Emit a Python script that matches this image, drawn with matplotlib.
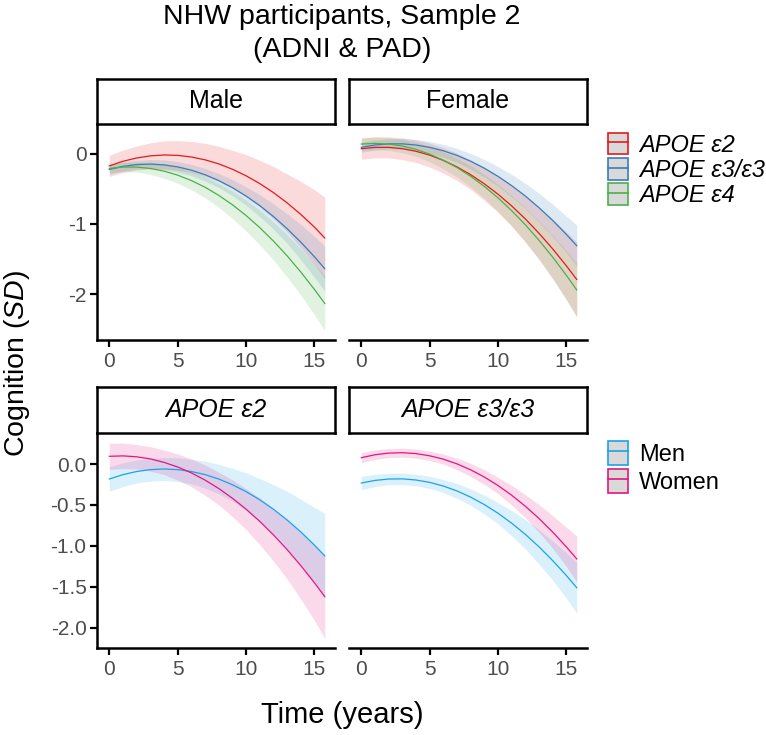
import matplotlib
matplotlib.use("Agg")
from matplotlib import pyplot as plt
from matplotlib.patches import Patch
from matplotlib.lines import Line2D
from matplotlib.font_manager import FontProperties
from numpy import array

plt.rcParams['font.family'] = 'Liberation Sans'
plt.rcParams['mathtext.fontset'] = 'custom'
plt.rcParams['mathtext.rm'] = 'Liberation Sans'
plt.rcParams['mathtext.it'] = 'Liberation Sans:italic'

# czas (lata)
years = [0, 1, 2, 3, 4, 5, 6, 7, 8, 9, 10, 11, 12, 13, 14, 15, 15.75]

# gorny rzad: Male / Female, wg genotypu APOE (srednia i polowa przedzialu ufnosci)
male_e2 = [-0.175, -0.110, -0.063, -0.033, -0.020, -0.026, -0.049, -0.089, -0.147,
           -0.223, -0.316, -0.427, -0.555, -0.701, -0.865, -1.046, -1.2]
male_e2_ci = [0.15, 0.16, 0.17, 0.185, 0.2, 0.21, 0.22, 0.235, 0.25, 0.27, 0.3,
              0.33, 0.37, 0.41, 0.47, 0.53, 0.58]
male_e33 = [-0.226, -0.182, -0.157, -0.150, -0.161, -0.190, -0.236, -0.301, -0.384,
            -0.485, -0.604, -0.740, -0.895, -1.068, -1.259, -1.468, -1.636]
male_e33_ci = [0.07, 0.065, 0.06, 0.065, 0.07, 0.075, 0.08, 0.09, 0.1, 0.115, 0.13,
               0.155, 0.18, 0.21, 0.25, 0.29, 0.32]
male_e4 = [-0.212, -0.192, -0.192, -0.212, -0.250, -0.307, -0.384, -0.479, -0.594,
           -0.728, -0.881, -1.053, -1.244, -1.454, -1.684, -1.932, -2.131]
male_e4_ci = [0.06, 0.065, 0.07, 0.085, 0.1, 0.115, 0.13, 0.15, 0.17, 0.195, 0.22,
              0.245, 0.27, 0.3, 0.33, 0.36, 0.39]

fem_e2 = [0.069, 0.088, 0.088, 0.069, 0.032, -0.023, -0.098, -0.190, -0.301,
          -0.431, -0.579, -0.746, -0.931, -1.135, -1.357, -1.598, -1.790]
fem_e2_ci = [0.15, 0.15, 0.15, 0.155, 0.16, 0.17, 0.18, 0.195, 0.21, 0.235, 0.26,
             0.29, 0.33, 0.37, 0.42, 0.48, 0.53]
fem_e33 = [0.088, 0.121, 0.138, 0.138, 0.121, 0.088, 0.039, -0.027, -0.110,
           -0.209, -0.325, -0.457, -0.605, -0.771, -0.952, -1.151, -1.310]
fem_e33_ci = [0.07, 0.07, 0.07, 0.075, 0.08, 0.085, 0.09, 0.1, 0.11, 0.125, 0.14,
              0.16, 0.18, 0.205, 0.23, 0.26, 0.29]
fem_e4 = [0.135, 0.145, 0.135, 0.107, 0.059, -0.008, -0.095, -0.200, -0.324,
          -0.468, -0.631, -0.813, -1.014, -1.235, -1.474, -1.733, -1.939]
fem_e4_ci = [0.09, 0.09, 0.09, 0.095, 0.1, 0.11, 0.12, 0.135, 0.15, 0.17, 0.19,
             0.215, 0.24, 0.275, 0.31, 0.35, 0.38]

# dolny rzad: APOE e2 / APOE e3/e3, wg plci
men_e2 = [-0.183, -0.129, -0.091, -0.068, -0.060, -0.068, -0.091, -0.129, -0.183,
          -0.253, -0.337, -0.437, -0.553, -0.684, -0.830, -0.992, -1.123]
men_e2_ci = [0.15, 0.145, 0.14, 0.14, 0.14, 0.145, 0.15, 0.165, 0.18, 0.2, 0.23,
             0.26, 0.3, 0.35, 0.4, 0.46, 0.52]
women_e2 = [0.095, 0.100, 0.089, 0.063, 0.021, -0.036, -0.108, -0.196, -0.299,
            -0.418, -0.552, -0.701, -0.866, -1.046, -1.242, -1.453, -1.621]
women_e2_ci = [0.16, 0.155, 0.15, 0.15, 0.15, 0.16, 0.17, 0.185, 0.2, 0.225, 0.25,
               0.285, 0.32, 0.36, 0.41, 0.46, 0.51]

men_e33 = [-0.232, -0.200, -0.183, -0.181, -0.195, -0.224, -0.269, -0.329, -0.405,
           -0.496, -0.602, -0.724, -0.861, -1.014, -1.182, -1.365, -1.513]
men_e33_ci = [0.08, 0.075, 0.07, 0.07, 0.07, 0.075, 0.08, 0.09, 0.1, 0.115, 0.13,
              0.155, 0.18, 0.21, 0.24, 0.28, 0.31]
women_e33 = [0.078, 0.114, 0.134, 0.139, 0.128, 0.101, 0.060, 0.002, -0.071,
             -0.159, -0.263, -0.382, -0.517, -0.667, -0.833, -1.015, -1.161]
women_e33_ci = [0.06, 0.058, 0.055, 0.055, 0.055, 0.058, 0.06, 0.07, 0.08, 0.09, 0.1,
                0.12, 0.14, 0.17, 0.2, 0.24, 0.28]

apoe_labels = ["APOE ε2", "APOE ε3/ε3", "APOE ε4"]
apoe_colors = ["#E41A1C", "#377EB8", "#4DAF4A"]
sex_labels = ["Men", "Women"]
sex_colors = ["#1AA3E8", "#E6157F"]

top_yticks = [0, -1, -2]
top_yticklabels = ["0", "-1", "-2"]
bot_yticks = [0.0, -0.5, -1.0, -1.5, -2.0]
bot_yticklabels = ["0.0", "-0.5", "-1.0", "-1.5", "-2.0"]
xticks = [0, 5, 10, 15]

W, H = 766, 735
fig = plt.figure(figsize=(W / 100, H / 100), dpi=100)


def rect(l, t, r, b):
    return [l / W, 1 - b / H, (r - l) / W, (b - t) / H]


def panel(box, strip_box, title, italic, series, ylim, yticks, yticklabels, show_y):
    ax = fig.add_axes(rect(*box))
    for line, ci, col in series:
        line = array(line)
        ci = array(ci)
        ax.fill_between(years, line - ci, line + ci, color=col, alpha=0.16, linewidth=0)
    for line, ci, col in series:
        ax.plot(years, line, color=col, linewidth=0.9)
    ax.set_xlim(-0.9, 16.5)
    ax.set_ylim(ylim)
    ax.spines['top'].set_visible(False)
    ax.spines['right'].set_visible(False)
    ax.spines['bottom'].set_linewidth(1.8)
    ax.spines['left'].set_linewidth(1.8)
    ax.set_xticks(xticks)
    ax.set_xticklabels([str(t) for t in xticks])
    ax.tick_params(axis='x', length=5, width=1.6, pad=3.5, labelsize=15, labelcolor='#4D4D4D')
    if show_y:
        ax.set_yticks(yticks)
        ax.set_yticklabels(yticklabels)
        ax.tick_params(axis='y', length=5, width=1.6, pad=2.5, labelsize=15, labelcolor='#4D4D4D')
    else:
        ax.spines['left'].set_visible(False)
        ax.set_yticks([])

    st = fig.add_axes(rect(*strip_box))
    st.set_xticks([])
    st.set_yticks([])
    for s in st.spines.values():
        s.set_linewidth(1.8)
    st.text(0.5, 0.5, title, ha='center', va='center', fontsize=18,
            style='italic' if italic else 'normal', transform=st.transAxes)
    return ax


top_ylim = (-2.65, 0.42)
bot_ylim = (-2.25, 0.38)

panel((97, 124, 335, 340), (97, 79, 335, 124), "Male", False,
      [(male_e2, male_e2_ci, apoe_colors[0]),
       (male_e33, male_e33_ci, apoe_colors[1]),
       (male_e4, male_e4_ci, apoe_colors[2])],
      top_ylim, top_yticks, top_yticklabels, True)
panel((349, 124, 587, 340), (349, 79, 587, 124), "Female", False,
      [(fem_e2, fem_e2_ci, apoe_colors[0]),
       (fem_e33, fem_e33_ci, apoe_colors[1]),
       (fem_e4, fem_e4_ci, apoe_colors[2])],
      top_ylim, top_yticks, top_yticklabels, False)
panel((97, 433, 335, 648), (97, 387, 335, 433), "APOE ε2", True,
      [(men_e2, men_e2_ci, sex_colors[0]),
       (women_e2, women_e2_ci, sex_colors[1])],
      bot_ylim, bot_yticks, bot_yticklabels, True)
panel((349, 433, 587, 648), (349, 387, 587, 433), "APOE ε3/ε3", True,
      [(men_e33, men_e33_ci, sex_colors[0]),
       (women_e33, women_e33_ci, sex_colors[1])],
      bot_ylim, bot_yticks, bot_yticklabels, False)

# tytul i opisy osi
fig.text(342 / W, 1 - 24 / H, "NHW participants, Sample 2", ha='center', va='baseline', fontsize=20.5)
fig.text(342 / W, 1 - 57 / H, "(ADNI & PAD)", ha='center', va='baseline', fontsize=20.5)
fig.text(342 / W, 1 - 715 / H, "Time (years)", ha='center', va='center', fontsize=21)
fig.text(17 / W, 1 - 363 / H, r"Cognition ($\mathit{SD}$)", ha='center', va='center',
         rotation=90, fontsize=20.5)


def legend(labels, colors, top, italic, hh, spacing):
    handles = [(Patch(facecolor='#D9D9D9', edgecolor=c, linewidth=1.2),
                Line2D([], [], color=c, linewidth=1.2)) for c in colors]
    prop = FontProperties(family='Liberation Sans', style='italic' if italic else 'normal', size=17)
    fig.legend(handles, labels, loc='upper left', bbox_to_anchor=(608 / W, 1 - top / H),
               frameon=False, borderpad=0, borderaxespad=0, handlelength=0.85,
               handleheight=hh, labelspacing=spacing, handletextpad=0.45, prop=prop)


legend(apoe_labels, apoe_colors, 133, True, 1.02, 0.06)
legend(sex_labels, sex_colors, 441, False, 1.2, 0.12)

fig.savefig("out.png", dpi=100)
